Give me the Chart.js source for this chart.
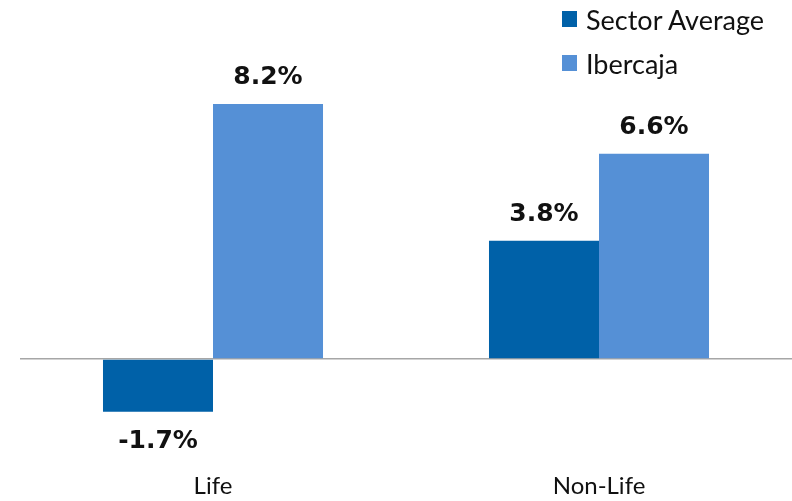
<!DOCTYPE html>
<html>
<head>
<meta charset="utf-8">
<script src="https://cdn.jsdelivr.net/npm/chart.js@4.4.1/dist/chart.umd.min.js"></script>
<style>
  html, body { margin: 0; padding: 0; background: #fff; }
  #wrap { position: relative; width: 792px; height: 501px; }
  #legend { position: absolute; left: 562px; top: -3px; font-family: Lato, sans-serif; font-size: 27px; color: #111; }
  .item { display: flex; align-items: center; height: 44px; }
  .sw { width: 15px; height: 16px; margin-right: 9px; }
</style>
</head>
<body>
<div id="wrap">
  <canvas id="chart" width="792" height="501"></canvas>
  <div id="legend">
    <div class="item"><span class="sw" style="background:#0061A8"></span>Sector Average</div>
    <div class="item"><span class="sw" style="background:#5590D6"></span>Ibercaja</div>
  </div>
</div>
<script>
// growth by business line
const categories = ['Life', 'Non-Life'];
const sectorAverage = [-1.7, 3.8];
const ibercaja = [8.2, 6.6];

const barLabels = {
    id: 'barLabels',
    afterDatasetsDraw(chart) {
        const ctx = chart.ctx;
        ctx.save();
        ctx.font = 'bold 25px "DejaVu Sans", sans-serif';
        ctx.fillStyle = '#111';
        ctx.textAlign = 'center';
        ctx.textBaseline = 'middle';
        chart.data.datasets.forEach((ds, i) => {
            chart.getDatasetMeta(i).data.forEach((bar, j) => {
                const v = ds.data[j];
                const y = v >= 0 ? bar.y - 26.5 : bar.y + 30;
                ctx.fillText(v.toFixed(1) + '%', bar.x, y);
            });
        });
        ctx.restore();
    }
};

new Chart(document.getElementById('chart'), {
    type: 'bar',
    data: {
        labels: categories,
        datasets: [
            { label: 'Sector Average', data: sectorAverage, backgroundColor: '#0061A8' },
            { label: 'Ibercaja', data: ibercaja, backgroundColor: '#5590D6' }
        ]
    },
    options: {
        responsive: false,
        animation: false,
        layout: { padding: { left: 20, right: 0, top: 0, bottom: 0 } },
        plugins: { legend: { display: false }, tooltip: { enabled: false } },
        datasets: { bar: { barPercentage: 1, categoryPercentage: 0.57 } },
        scales: {
            x: {
                grid: { display: false, tickLength: 0 },
                border: { display: false },
                ticks: { color: '#111', padding: 0, font: { family: 'Lato, sans-serif', size: 24 } }
            },
            y: {
                min: -3.64,
                max: 11.54,
                border: { display: false },
                ticks: { display: false, stepSize: 1 },
                grid: {
                    drawTicks: false,
                    lineWidth: 1.5,
                    color: c => c.tick && c.tick.value === 0 ? '#A6A6A6' : 'rgba(0,0,0,0)'
                }
            }
        }
    },
    plugins: [barLabels]
});
</script>
</body>
</html>
